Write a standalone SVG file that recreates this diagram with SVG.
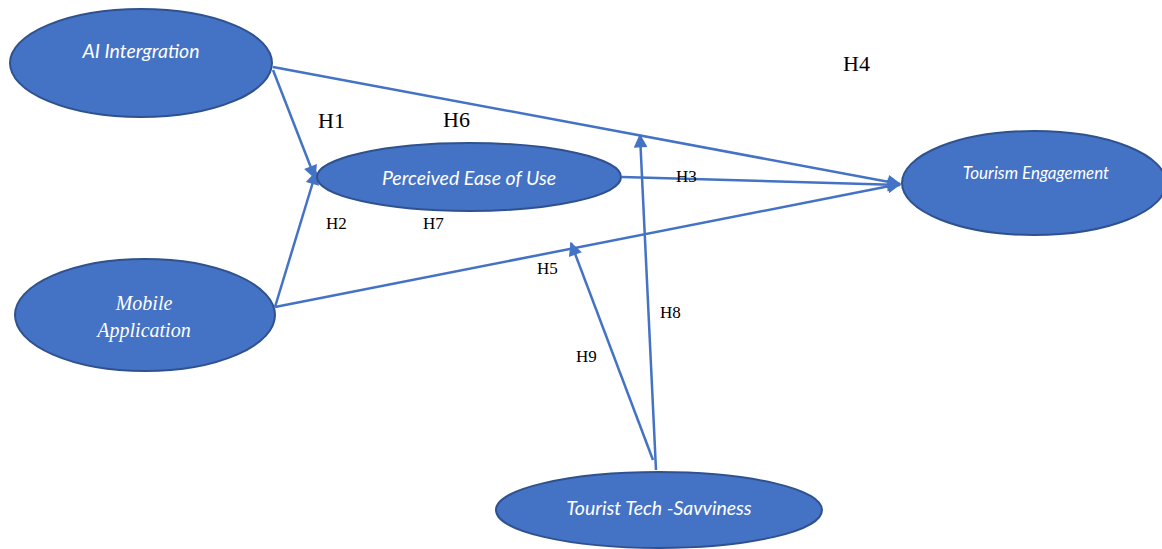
<svg xmlns="http://www.w3.org/2000/svg" width="1162" height="549" viewBox="0 0 1162 549">
<style>
.node{fill:#4472C4;stroke:#2F528F;stroke-width:2}
.lbl{fill:#ffffff;font-family:Lato,"Liberation Sans",sans-serif;font-style:italic;font-size:19.5px;text-anchor:middle}
.lblserif{fill:#ffffff;font-family:"Liberation Serif",serif;font-style:italic;font-size:20px;text-anchor:middle}
.conn line{stroke:#4472C4;stroke-width:2.5;fill:none}
.h{font-family:"Liberation Serif",serif;fill:#000;font-size:17px}
.hb{font-family:"Liberation Serif",serif;fill:#000;font-size:22px}
</style>
<defs>
<marker id="arr" viewBox="0 0 10 10" refX="9" refY="5" markerWidth="6" markerHeight="5.5" markerUnits="strokeWidth" orient="auto">
<path d="M0,0 L10,5 L0,10 z" fill="#4472C4"/>
</marker>
</defs>
<rect width="1162" height="549" fill="#ffffff"/>
<g class="conn">
<line x1="273" y1="70" x2="315" y2="178" marker-end="url(#arr)"/>
<line x1="273" y1="67" x2="900" y2="184" marker-end="url(#arr)"/>
<line x1="275" y1="307" x2="316" y2="172" marker-end="url(#arr)"/>
<line x1="275" y1="307" x2="900" y2="184" marker-end="url(#arr)"/>
<line x1="622" y1="177" x2="900" y2="185" marker-end="url(#arr)"/>
<line x1="656" y1="470" x2="640" y2="135" marker-end="url(#arr)"/>
<line x1="653" y1="460" x2="571" y2="243" marker-end="url(#arr)"/>
</g>
<g id="ai-integration">
<ellipse class="node" cx="141" cy="63" rx="131" ry="54"/>
<text class="lbl" x="141" y="58">AI Intergration</text>
</g>
<g id="perceived-ease">
<ellipse class="node" cx="469" cy="177" rx="152" ry="34"/>
<text class="lbl" x="469" y="185">Perceived Ease of Use</text>
</g>
<g id="mobile-application">
<ellipse class="node" cx="145" cy="315" rx="130" ry="56"/>
<text class="lblserif" x="144" y="310">Mobile</text>
<text class="lblserif" x="144" y="337">Application</text>
</g>
<g id="tourism-engagement">
<ellipse class="node" cx="1034" cy="183" rx="132" ry="52"/>
<text class="lbl" x="1036" y="179" style="font-size:17px">Tourism Engagement</text>
</g>
<g id="tourist-tech">
<ellipse class="node" cx="659" cy="510" rx="163" ry="38"/>
<text class="lbl" x="659" y="515">Tourist Tech -Savviness</text>
</g>
<g id="labels">
<text class="hb" x="318" y="128">H1</text>
<text class="hb" x="443" y="127">H6</text>
<text class="hb" x="843" y="71">H4</text>
<text class="h" x="326" y="229">H2</text>
<text class="h" x="423" y="229">H7</text>
<text class="h" x="676" y="182">H3</text>
<text class="h" x="537" y="274">H5</text>
<text class="h" x="660" y="318">H8</text>
<text class="h" x="576" y="362">H9</text>
</g>
</svg>
